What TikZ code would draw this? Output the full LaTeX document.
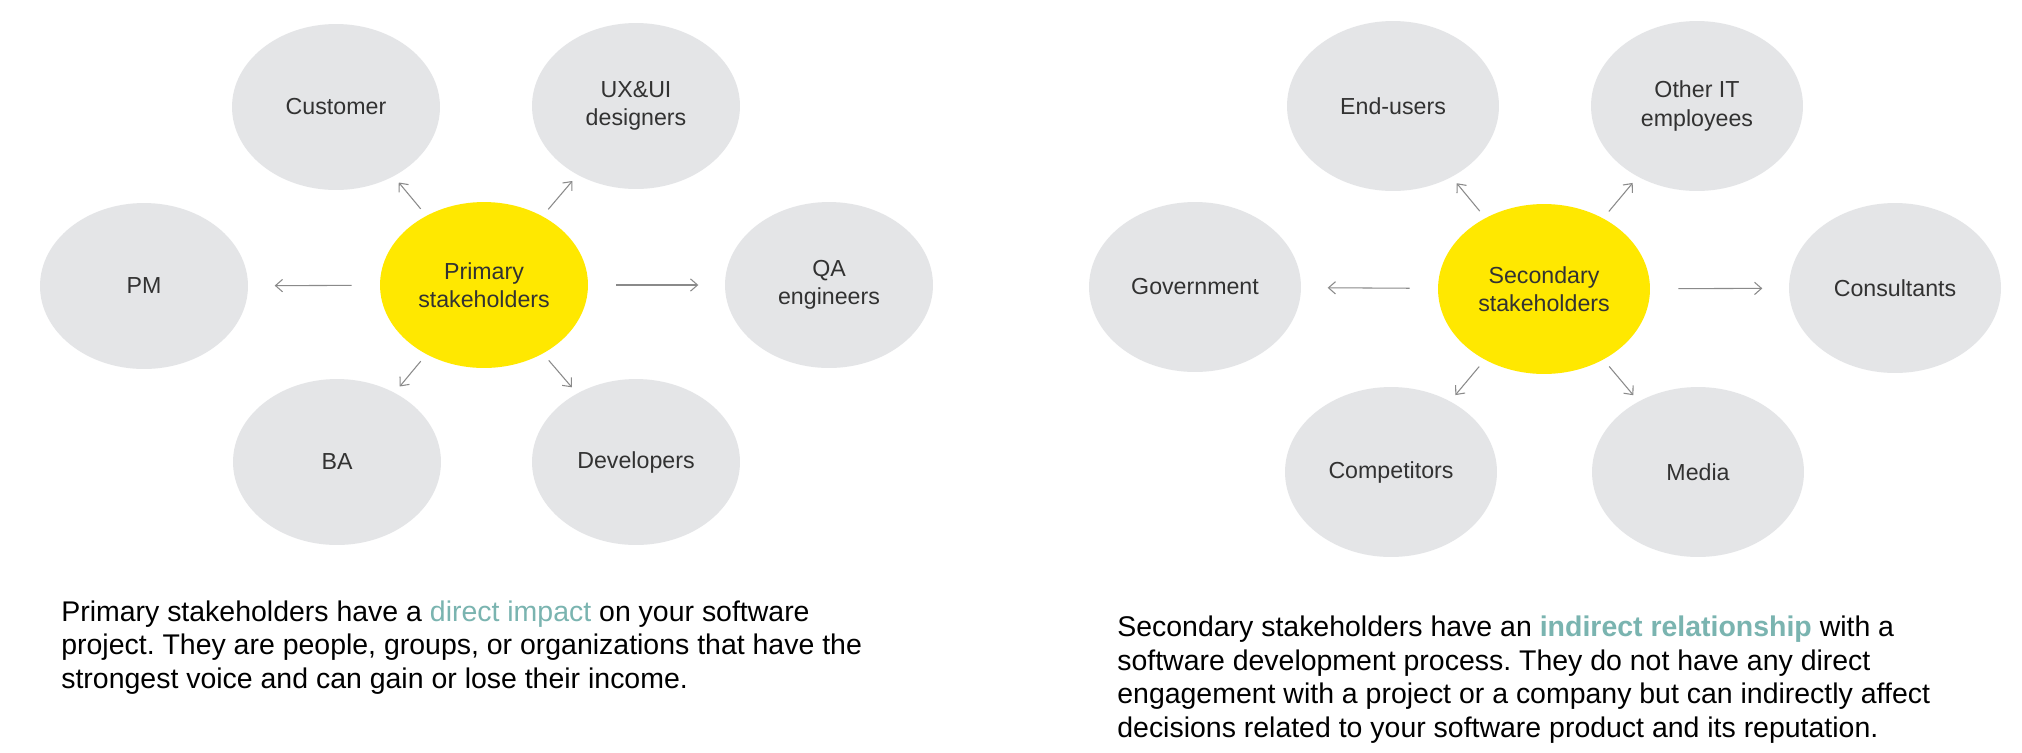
\documentclass[tikz,border=0pt]{standalone}
\usepackage{fontspec}
\setmainfont{Liberation Sans}
\usepackage{tikz}
\usetikzlibrary{positioning,shapes.geometric,arrows.meta}
\frenchspacing

\definecolor{bubblegray}{RGB}{228,229,231}
\definecolor{hubyellow}{RGB}{255,232,0}
\definecolor{arrowgray}{RGB}{138,138,138}
\definecolor{labelgray}{RGB}{50,50,50}
\definecolor{hilite}{RGB}{122,180,176}

\tikzset{
  bubble/.style={ellipse, fill=bubblegray, minimum width=4.16cm, minimum height=3.32cm,
    inner sep=0pt, align=center, text=labelgray, font=\fontsize{13.2}{16}\selectfont},
  hub/.style={bubble, fill=hubyellow},
  bigger/.style={minimum width=4.24cm, minimum height=3.4cm},
  link/.style={draw=arrowgray, line width=0.6pt, -{Straight Barb[length=4pt,width=7pt]}},
  side/.style={link, shorten <=16pt, shorten >=15pt},
  diag/.style={link, shorten <=5pt, shorten >=4.5pt},
  para/.style={anchor=base west, align=left, inner sep=0pt, font=\fontsize{16.2}{19}\selectfont}
}

\begin{document}
\begin{tikzpicture}[x=0.02cm,y=-0.02cm]
\useasboundingbox[fill=white] (0,0) rectangle (2022,752);

% primary
\node[hub] (prim) at (484,285) {Primary\\stakeholders};
\node[bubble] (cust) at (336,107) {Customer};
\node[bubble] (uxui) at (636,106) {UX\&UI\\designers};
\node[bubble] (pm) at (144,286) {PM};
\node[bubble] (qa) at (829,285) {QA\\engineers};
\node[bubble] (ba) at (337,462) {BA};
\node[bubble] (dev) at (636,462) {Developers};

\draw[side] (prim) -- (pm);
\draw[side] (prim) -- (qa);
\draw[diag] (prim) -- (cust);
\draw[diag] (prim) -- (uxui);
\draw[diag] (prim) -- (ba);
\draw[diag] (prim) -- (dev);

% secondary
\node[hub,bigger] (sec) at (1544,289) {Secondary\\stakeholders};
\node[bubble,bigger] (endu) at (1393,106) {End-users};
\node[bubble,bigger] (othit) at (1697,106) {Other IT\\employees};
\node[bubble,bigger] (gov) at (1195,287) {Government};
\node[bubble,bigger] (cons) at (1895,288) {Consultants};
\node[bubble,bigger] (comp) at (1391,472) {Competitors};
\node[bubble,bigger] (media) at (1698,472) {Media};

\draw[side] (sec) -- (gov);
\draw[side] (sec) -- (cons);
\draw[diag] (sec) -- (endu);
\draw[diag] (sec) -- (othit);
\draw[diag] (sec) -- (comp);
\draw[diag] (sec) -- (media);

\node[para] (ptext) at (61,688) {Primary stakeholders have a \textcolor{hilite}{direct impact} on your software\\
project. They are people, groups, or organizations that have the\\
strongest voice and can gain or lose their income.};
\node[para] (stext) at (1117,737) {Secondary stakeholders have an \textcolor{hilite}{\bfseries indirect relationship} with a\\
software development process. They do not have any direct\\
engagement with a project or a company but can indirectly affect\\
decisions related to your software product and its reputation.};
\end{tikzpicture}
\end{document}
